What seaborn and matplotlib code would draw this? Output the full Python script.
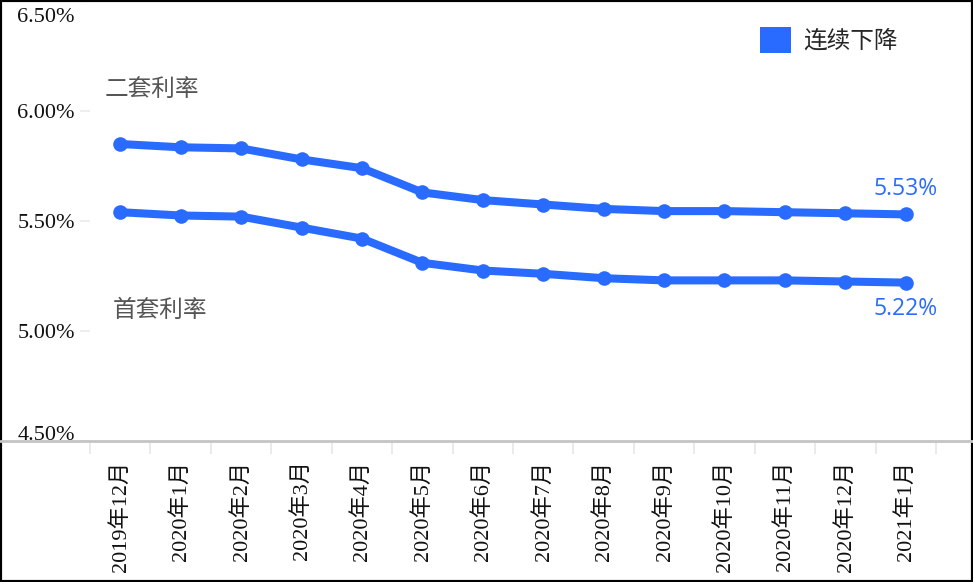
import matplotlib
matplotlib.use('Agg')
import matplotlib.pyplot as plt
from matplotlib.patches import Patch, Rectangle
from matplotlib.lines import Line2D
from matplotlib.ticker import FixedLocator
from matplotlib.transforms import ScaledTranslation
import seaborn as sns
import pandas as pd

months = ['2019年12月', '2020年1月', '2020年2月', '2020年3月', '2020年4月', '2020年5月',
          '2020年6月', '2020年7月', '2020年8月', '2020年9月', '2020年10月', '2020年11月',
          '2020年12月', '2021年1月']
second_rate = [5.85, 5.835, 5.83, 5.78, 5.74, 5.63, 5.595, 5.575, 5.555, 5.545, 5.545, 5.54, 5.535, 5.53]
first_rate = [5.54, 5.525, 5.52, 5.47, 5.42, 5.31, 5.275, 5.26, 5.24, 5.23, 5.23, 5.23, 5.225, 5.22]
y_ticks = [4.5, 5.0, 5.5, 6.0, 6.5]
y_labels = ['4.50%', '5.00%', '5.50%', '6.00%', '6.50%']

blue = '#2a6bff'
serif = ['Liberation Serif', 'Noto Sans CJK SC']
cjk = ['Noto Sans CJK SC', 'DejaVu Sans']

sns.set_theme(style='white')
plt.rcParams['font.family'] = cjk

df = pd.DataFrame({'month': months, 'second': second_rate, 'first': first_rate})

fig = plt.figure(figsize=(9.73, 5.82), dpi=100)
ax = fig.add_axes([90 / 973, 141 / 582, 846 / 973, 440 / 582])

for col in ['second', 'first']:
    sns.lineplot(data=df, x='month', y=col, ax=ax, color=blue, linewidth=5.8,
                 marker='o', markersize=10.5, markeredgewidth=0, legend=False)

ax.set_xlim(-0.5, len(months) - 0.5)
ax.set_ylim(4.5, 6.5)
ax.set_xlabel('')
ax.set_ylabel('')

for s in ['top', 'right', 'left', 'bottom']:
    ax.spines[s].set_visible(False)

# x axis
ax.set_xticks(range(len(months)))
ax.set_xticklabels(months, rotation=90, family=serif, fontsize=16, color='#111111')
ax.xaxis.set_minor_locator(FixedLocator([i - 0.5 for i in range(len(months) + 1)]))
ax.tick_params(axis='x', which='major', length=0, pad=14)
ax.tick_params(axis='x', which='minor', length=9, width=1.2, color='#e6e6e6', bottom=True)

# y axis
ax.set_yticks(y_ticks)
ax.set_yticklabels(y_labels, family=serif, fontsize=16, color='#111111')
ax.tick_params(axis='y', which='major', length=7, width=1.5, color='#eeeeee', pad=4, left=True)
ylabs = ax.get_yticklabels()
ylabs[0].set_transform(ylabs[0].get_transform() + ScaledTranslation(0, 8 / 100, fig.dpi_scale_trans))
ylabs[-1].set_transform(ylabs[-1].get_transform() + ScaledTranslation(0, -14 / 100, fig.dpi_scale_trans))

# series labels
ax.text(0.53, 6.10, '二套利率', fontsize=17, color='#555555', ha='center', va='center')
ax.text(0.66, 5.095, '首套利率', fontsize=17, color='#555555', ha='center', va='center')
ax.text(13.0, second_rate[-1] + 0.115, '5.53%', fontsize=16.5, color=blue, ha='center',
        va='center', family=['Open Sans', 'DejaVu Sans'])
ax.text(13.0, first_rate[-1] - 0.12, '5.22%', fontsize=16.5, color=blue, ha='center',
        va='center', family=['Open Sans', 'DejaVu Sans'])

handle = Patch(facecolor=blue, edgecolor='none')
ax.legend([handle], ['连续下降'], loc='upper right', bbox_to_anchor=(0.985, 1.0),
          frameon=False, fontsize=17, handlelength=1.3, handleheight=1.3,
          handletextpad=0.5, borderaxespad=0.7)

# full-width axis line and frame
fig.add_artist(Line2D([0, 1], [141 / 582, 141 / 582], transform=fig.transFigure,
                      color='#c4c4c4', linewidth=2))
fig.add_artist(Rectangle((0, 0), 1, 1, transform=fig.transFigure, fill=False,
                         edgecolor='black', linewidth=3))

fig.savefig('out.png', dpi=100)
